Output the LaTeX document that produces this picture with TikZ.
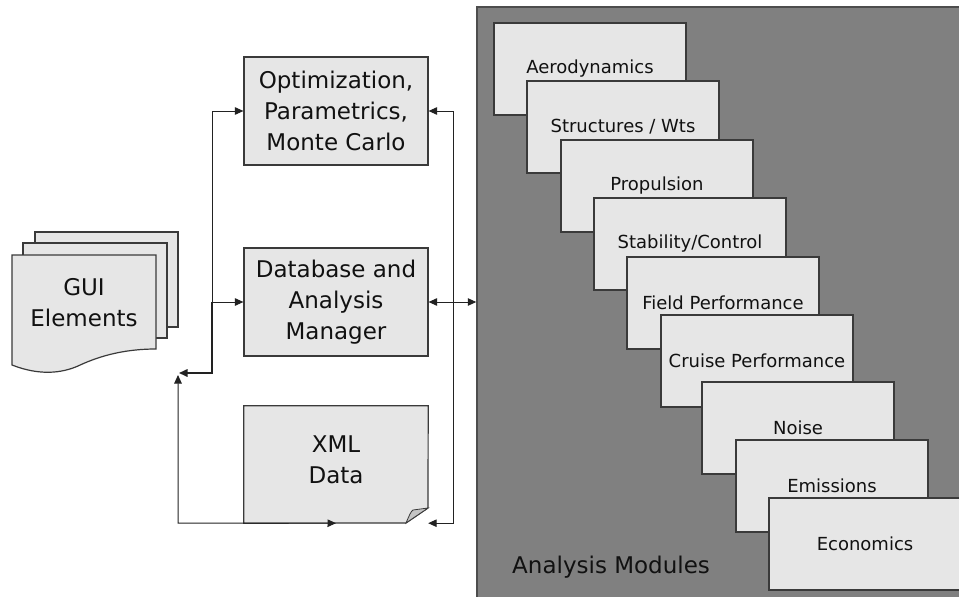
\documentclass[tikz,border=0pt]{standalone}
\usepackage{fontspec}
\setmainfont{DejaVu Sans}
\usetikzlibrary{arrows.meta}
\definecolor{boxfill}{HTML}{E6E6E6}
\definecolor{boxline}{HTML}{3A3A3A}
\definecolor{bigfill}{HTML}{808080}
\definecolor{bigline}{HTML}{4D4D4D}
\definecolor{foldfill}{HTML}{C4C4C4}
\definecolor{lin}{HTML}{222222}
\definecolor{txt}{HTML}{111111}
\begin{document}
\begin{tikzpicture}[x=1pt,y=-1pt,
  box/.style={draw=boxline, fill=boxfill, line width=1.2pt, minimum width=184pt, minimum height=108pt, inner sep=0pt, align=center, font=\fontsize{23}{31}\selectfont, text=txt},
  mod/.style={draw=boxline, fill=boxfill, line width=1.2pt, minimum width=192pt, minimum height=92pt, inner sep=0pt, font=\fontsize{18}{22}\selectfont, text=txt},
  bigtext/.style={font=\fontsize{23}{31}\selectfont, text=txt, align=center, inner sep=0pt},
  conn/.style={draw=lin, line width=1pt},
  tip/.style={-{Triangle[length=8.5pt,width=7.5pt]}},
  tips/.style={{Triangle[length=8.5pt,width=7.5pt]}-{Triangle[length=8.5pt,width=7.5pt]}},
]
\clip (0,0) rectangle (959,597);
\fill[white] (0,0) rectangle (959,597);

% Analysis modules container
\node[draw=bigline, fill=bigfill, line width=1.5pt, minimum width=488pt, minimum height=598pt, inner sep=0pt] (am) at (721,306) {};
\node[bigtext, anchor=west] (amlabel) at (512,567) {Analysis Modules};

\node[mod] (aero)   at (590,69)  {Aerodynamics};
\node[mod] (struct) at (623,127) {Structures / Wts};
\node[mod] (prop)   at (657,186) {Propulsion};
\node[mod] (stab)   at (690,244) {Stability/Control};
\node[mod] (field)  at (723,303) {Field Performance};
\node[mod] (cruise) at (757,361) {Cruise Performance};
\node[mod] (noise)  at (798,428) {Noise};
\node[mod] (emis)   at (832,486) {Emissions};
\node[mod] (econ)   at (865,544) {Economics};

% Left boxes
\node[box] (opt) at (336,111) {Optimization,\\Parametrics,\\Monte Carlo};
\node[box] (db)  at (336,302) {Database and\\Analysis\\Manager};

% XML note shape
\node[minimum width=184pt, minimum height=117pt, inner sep=0pt] (xml) at (336,464.5) {};
\draw[draw=boxline, fill=boxfill, line width=1.2pt]
  (xml.north west) -- (xml.north east) -- (428,508) -- (406,523) -- (xml.south west) -- cycle;
\draw[draw=boxline, fill=foldfill, line width=0.8pt]
  (406,523) .. controls (409,516) and (411,511) .. (413,510) -- (428,508) -- cycle;
\node[bigtext] (xmltext) at (336,460) {XML\\Data};

% GUI documents
\draw[draw=boxline, fill=boxfill, line width=1.2pt] (35,232) rectangle (178,327);
\draw[draw=boxline, fill=boxfill, line width=1.2pt] (23,243) rectangle (167,338);
\draw[draw=boxline, fill=boxfill, line width=1.2pt]
  (12,255) -- (156,255) -- (156,349)
  .. controls (120,349) and (95,358) .. (78,366)
  .. controls (62,373) and (40,376) .. (12,365) -- cycle;
\node[bigtext] (gui) at (84,303) {GUI\\Elements};

% Connectors
\coordinate (bus) at (212,373);
\coordinate (busmid) at (212,302);
\coordinate (jl) at (179,373);
\coordinate (ju) at (178,375);
\coordinate (jb) at (178,523);
\coordinate (rbus) at (453,302);

\draw[conn,tip] (busmid) |- (opt.west);
\draw[conn,tip] (busmid) -- (db.west);
\draw[conn,line width=1.6pt,tip] (busmid) -- (bus) -- (jl);
\draw[conn,tips] (ju) -- (jb) -- (xml.south);

\draw[conn,tip] (rbus) |- (opt.east);
\draw[conn,tip] (rbus) |- (xml.south east);
\draw[conn,tips] (db.east) -- (db.east -| am.west);
\end{tikzpicture}
\end{document}
